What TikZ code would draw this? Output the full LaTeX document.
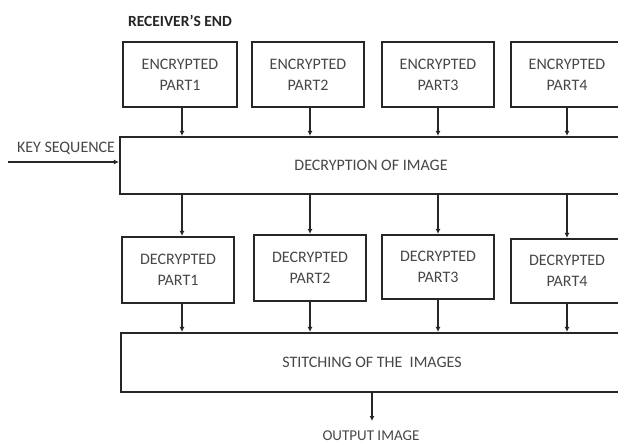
\documentclass[tikz,border=0pt]{standalone}
\usepackage{fontspec}
\setmainfont{Carlito}
\usetikzlibrary{arrows.meta}
\begin{document}
\begin{tikzpicture}[x=1pt,y=-1pt,
  box/.style={draw=black!85,line width=2.2pt,fill=white,align=center,inner sep=0pt,
    font=\fontsize{16}{21}\selectfont,text=black!72},
  lbl/.style={font=\fontsize{16}{19}\selectfont,text=black!72,inner sep=0pt},
  conn/.style={draw=black!85,line width=2.2pt,-{Latex[length=5pt,width=5pt]}}]
\useasboundingbox (0,0) rectangle (618,445);
\clip (0,0) rectangle (618,445);
\fill[white] (0,0) rectangle (618,445);
\node[lbl,font=\bfseries\fontsize{15.5}{19}\selectfont,text=black!85] (recv) at (180,21) {RECEIVER'S END};
% encrypted parts
\node[box,minimum width=114pt,minimum height=65pt] (enc1) at (180,74.5) {ENCRYPTED\\PART1};
\node[box,minimum width=112pt,minimum height=65pt] (enc2) at (308,74.5) {ENCRYPTED\\PART2};
\node[box,minimum width=112pt,minimum height=65pt] (enc3) at (438,74.5) {ENCRYPTED\\PART3};
\node[box,minimum width=112pt,minimum height=65pt] (enc4) at (567,74.5) {ENCRYPTED\\PART4};
% decryption
\node[box,minimum width=502pt,minimum height=57pt] (dec) at (371,165.5) {DECRYPTION OF IMAGE};
% decrypted parts
\node[box,minimum width=112pt,minimum height=66pt] (dp1) at (178,270) {DECRYPTED\\PART1};
\node[box,minimum width=112pt,minimum height=66pt] (dp2) at (310,268) {DECRYPTED\\PART2};
\node[box,minimum width=112pt,minimum height=64pt] (dp3) at (438,267) {DECRYPTED\\PART3};
\node[box,minimum width=112pt,minimum height=64pt] (dp4) at (567,271) {DECRYPTED\\PART4};
% stitching
\node[box,minimum width=502pt,minimum height=59pt] (stitch) at (372,362.5) {STITCHING OF THE\ \ IMAGES};
% key sequence
\coordinate (keystart) at (8,162);
\node[lbl,anchor=center] (key) at (66,148) {KEY SEQUENCE};
\draw[conn] (keystart) -- (keystart -| dec.west);
% arrows enc -> dec
\draw[conn] (enc1.south -| 182,0) -- (dec.north -| 182,0);
\draw[conn] (enc2.south -| 310,0) -- (dec.north -| 310,0);
\draw[conn] (enc3.south -| 438,0) -- (dec.north -| 438,0);
\draw[conn] (enc4.south -| 567,0) -- (dec.north -| 567,0);
% arrows dec -> decrypted
\draw[conn] (dec.south -| 182,0) -- (dp1.north -| 182,0);
\draw[conn] (dec.south -| 310,0) -- (dp2.north -| 310,0);
\draw[conn] (dec.south -| 438,0) -- (dp3.north -| 438,0);
\draw[conn] (dec.south -| 567,0) -- (dp4.north -| 567,0);
% arrows decrypted -> stitch
\draw[conn] (dp1.south -| 182,0) -- (stitch.north -| 182,0);
\draw[conn] (dp2.south -| 310,0) -- (stitch.north -| 310,0);
\draw[conn] (dp3.south -| 438,0) -- (stitch.north -| 438,0);
\draw[conn] (dp4.south -| 567,0) -- (stitch.north -| 567,0);
% output
\coordinate (outend) at (372,421);
\node[lbl,font=\fontsize{15}{18}\selectfont] (out) at (371,435.5) {OUTPUT IMAGE};
\draw[conn] (stitch.south -| outend) -- (outend);
\end{tikzpicture}
\end{document}
